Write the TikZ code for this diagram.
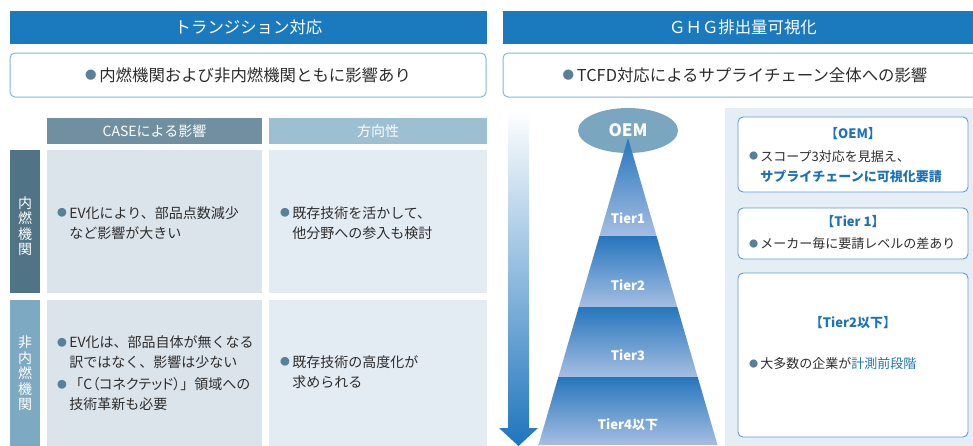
\documentclass[tikz,border=0pt]{standalone}
\usepackage{fontspec}
\setmainfont{Noto Sans CJK JP}
\usetikzlibrary{shapes.geometric,calc}
\definecolor{hdrblue}{RGB}{27,122,190}
\definecolor{subline}{RGB}{132,180,222}
\definecolor{txt}{RGB}{45,45,45}
\definecolor{dotc}{RGB}{88,128,150}
\definecolor{caseh}{RGB}{112,143,160}
\definecolor{dirh}{RGB}{157,191,210}
\definecolor{rowa}{RGB}{80,116,134}
\definecolor{rowb}{RGB}{126,169,194}
\definecolor{cella}{RGB}{220,228,235}
\definecolor{cellb}{RGB}{228,236,243}
\definecolor{panel}{RGB}{229,238,245}
\definecolor{boxline}{RGB}{95,155,212}
\definecolor{bluetxt}{RGB}{30,114,184}
\definecolor{oemc}{RGB}{122,167,191}
\definecolor{pyrtop}{RGB}{38,118,189}
\definecolor{pyrbot}{RGB}{166,190,226}
\definecolor{arrowc}{RGB}{31,117,189}
\newcommand{\bul}{\textcolor{dotc}{\raisebox{0.12em}{\scalebox{0.7}{●}}}\,}
\newcommand{\ind}{\hphantom{\bul}}
\tikzset{
  hdr/.style={fill=hdrblue, text=white, inner sep=0pt, minimum height=33pt, font=\fontsize{16.4}{16}\selectfont},
  subbox/.style={draw=subline, line width=1pt, rounded corners=5pt, fill=white, inner sep=0pt, minimum height=44pt, text=txt, font=\fontsize{16.4}{16}\selectfont},
  colhead/.style={text=white, inner sep=0pt, minimum height=26pt, font=\fontsize{14}{14}\selectfont},
  rowhead/.style={text=white, inner sep=0pt, align=center, font=\fontsize{14}{15.5}\selectfont},
  cell/.style={inner sep=0pt},
  body/.style={text=txt, inner sep=0pt, align=left, anchor=west, font=\fontsize{14}{20}\selectfont},
  boxbody/.style={body, font=\fontsize{13}{20}\selectfont},
  infobox/.style={draw=boxline, line width=0.9pt, rounded corners=5pt, fill=white, inner sep=0pt, minimum width=230pt},
  boxtitle/.style={text=bluetxt, inner sep=0pt, font=\bfseries\fontsize{13}{13}\selectfont},
  tierlbl/.style={text=white, inner sep=0pt, font=\bfseries\fontsize{13}{13}\selectfont}
}
\begin{document}
\begin{tikzpicture}[x=1pt, y=-1pt]
  \useasboundingbox (0,0) rectangle (973,445);

  % left half: transition
  \node[hdr, minimum width=477pt] (lhdr) at (248.5,27.5) {トランジション対応};
  \node[subbox, minimum width=476pt] (lsub) at (248,75) {\bul 内燃機関および非内燃機関ともに影響あり};

  \node[colhead, fill=caseh, minimum width=215pt] (hcase) at (154.5,131) {CASEによる影響};
  \node[colhead, fill=dirh, minimum width=218pt] (hdir) at (378,131) {方向性};

  \fill[rowa] (10,150) rectangle (40,293);
  \fill[rowb] (10,300) rectangle (40,450);
  \node[rowhead] (rice) at (25,226) {内\\燃\\機\\関};
  \node[rowhead] (rnon) at (25,373.5) {非\\内\\燃\\機\\関};

  \node[cell, fill=cella, minimum width=215pt, minimum height=143pt] (c11) at (154.5,221.5) {};
  \node[cell, fill=cellb, minimum width=218pt, minimum height=143pt] (c12) at (378,221.5) {};
  \node[cell, fill=cella, minimum width=215pt, minimum height=150pt] (c21) at (154.5,375) {};
  \node[cell, fill=cellb, minimum width=218pt, minimum height=150pt] (c22) at (378,375) {};

  \node[body] (t11) at (57,223) {\bul EV化により、部品点数減少\\\ind など影響が大きい};
  \node[body] (t12) at (280,223) {\bul 既存技術を活かして、\\\ind 他分野への参入も検討};
  \node[body] (t21) at (57,373.5) {\bul EV化は、部品自体が無くなる\\\ind 訳ではなく、影響は少ない\\[2pt]\bul 「C{\addfontfeature{RawFeature=+palt}（コネクテッド）}」領域への\\\ind 技術革新も必要};
  \node[body] (t22) at (280,372) {\bul 既存技術の高度化が\\\ind 求められる};

  % right half: GHG
  \node[hdr, minimum width=480pt] (rhdr) at (743,27.5) {ＧＨＧ排出量可視化};
  \node[subbox, minimum width=484pt] (rsub) at (745,75) {\bul TCFD対応によるサプライチェーン全体への影響};

  % gradient arrow
  \shade[top color=white, bottom color=arrowc]
    (508,110) -- (529,110) -- (529,428) -- (538,428) -- (518.5,446) -- (499,428) -- (508,428) -- cycle;

  % pyramid
  \node[ellipse, fill=oemc, text=white, inner sep=0pt, minimum width=100pt, minimum height=45pt,
        font=\bfseries\fontsize{17}{17}\selectfont] (oem) at (628,130.5) {OEM};
  \coordinate (apex) at (628,138);
  \coordinate (bl) at (538.5,445);
  \coordinate (br) at (717.5,445);
  \foreach \fa/\fb/\ly/\lbl [count=\i] in {0/.3192/218/Tier1, .3192/.5505/285/Tier2, .5505/.7785/355/Tier3, .7785/1/425/Tier4以下} {
    \shade[top color=pyrtop, bottom color=pyrbot]
      ($(apex)!\fa!(bl)$) -- ($(apex)!\fb!(bl)$) -- ($(apex)!\fb!(br)$) -- ($(apex)!\fa!(br)$) -- cycle;
    \node[tierlbl] (tier\i) at (628,\ly) {\lbl};
  }

  % info panel
  \fill[panel] (725,108) rectangle (980,450);
  \node[infobox, minimum height=75pt] (boem) at (853,154.5) {};
  \node[infobox, minimum height=51pt] (bt1) at (853,233.5) {};
  \node[infobox, minimum height=164pt] (bt2) at (853,355) {};

  \node[boxtitle] (hoem) at (853,134) {【OEM】};
  \node[boxbody] (toem) at (749,166.5) {\bul スコープ3対応を見据え、\\\ind \textcolor{bluetxt}{\bfseries サプライチェーンに可視化要請}};
  \node[boxtitle] (ht1) at (853,222) {【Tier 1】};
  \node[boxbody] (tt1) at (749,244) {\bul メーカー毎に要請レベルの差あり};
  \node[boxtitle] (ht2) at (853,323) {【Tier2以下】};
  \node[boxbody] (tt2) at (749,364) {\bul 大多数の企業が\textcolor{bluetxt}{計測前段階}};
\end{tikzpicture}
\end{document}
